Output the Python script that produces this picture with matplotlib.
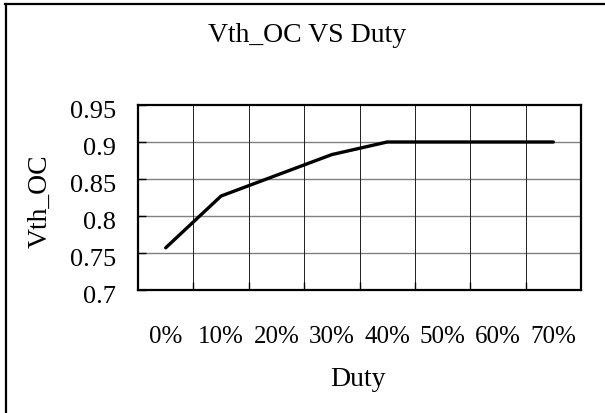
import matplotlib
matplotlib.use("Agg")
import matplotlib.pyplot as plt
from matplotlib.lines import Line2D
from matplotlib.transforms import ScaledTranslation
import numpy as np

# data
duty_labels = ["0%", "10%", "20%", "30%", "40%", "50%", "60%", "70%"]
vth_oc = [0.757, 0.827, 0.855, 0.883, 0.900, 0.900, 0.900, 0.900]
y_ticks = [0.7, 0.75, 0.8, 0.85, 0.9, 0.95]
y_tick_labels = ["0.7", "0.75", "0.8", "0.85", "0.9", "0.95"]

plt.rcParams["font.family"] = ["Liberation Serif", "DejaVu Serif"]

fig = plt.figure(figsize=(6.05, 4.14), dpi=100)
ax = fig.add_axes([138 / 605, 1 - 291 / 414, 443 / 605, 185 / 414])

# categories sit in the middle of each slot, like excel
x = np.arange(len(duty_labels)) + 0.5
ax.plot(x, vth_oc, color="black", linewidth=2.4, solid_capstyle="round", zorder=3)

ax.set_xlim(0, len(duty_labels))
ax.set_ylim(y_ticks[0], y_ticks[-1])

# grid: horizontal gray, vertical at slot boundaries
for yv in y_ticks[1:-1]:
    ax.axhline(yv, color="#808080", linewidth=1.0, zorder=1)
for xv in range(1, len(duty_labels)):
    ax.axvline(xv, color="#202020", linewidth=0.7, zorder=1)

ax.set_yticks(y_ticks)
ax.set_yticklabels(y_tick_labels, fontsize=19)
ax.set_xticks(range(1, len(duty_labels)))
ax.set_xticklabels([])
ax.set_xticks(x, minor=True)
ax.set_xticklabels(duty_labels, minor=True, fontsize=18)
ax.tick_params(axis="x", which="minor", length=0, pad=25)
ax.tick_params(axis="x", which="major", direction="in", length=6, width=1)
ax.tick_params(axis="y", direction="in", length=6, width=1, pad=16)

# excel draws value labels a few px lower than their gridlines
shift = ScaledTranslation(0, -4 / 100, fig.dpi_scale_trans)
for lbl in ax.get_yticklabels():
    lbl.set_transform(lbl.get_transform() + shift)

for side in ax.spines.values():
    side.set_linewidth(1.6)
    side.set_color("black")

fig.text(307 / 605, 1 - 36 / 414, "Vth_OC VS Duty", ha="center", va="center", fontsize=20)
fig.text(40 / 605, 1 - 201 / 414, "Vth_OC", ha="center", va="center", rotation=90, fontsize=20)
fig.text(358 / 605, 1 - 380 / 414, "Duty", ha="center", va="center", fontsize=20)

# chart area border, only left and top edges are inside the picture
fig.add_artist(Line2D([6 / 605, 6 / 605], [0, 1 - 5 / 414], transform=fig.transFigure,
                      color="black", linewidth=1.6))
fig.add_artist(Line2D([5 / 605, 1], [1 - 5 / 414, 1 - 5 / 414], transform=fig.transFigure,
                      color="black", linewidth=1.6))

fig.savefig("out.png", dpi=100)
